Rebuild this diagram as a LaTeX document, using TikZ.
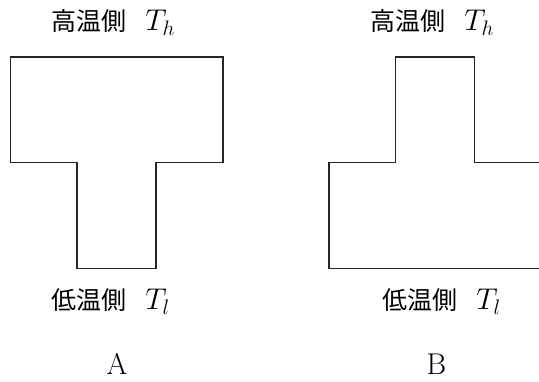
\RequirePackage{fix-cm}
\documentclass[tikz,border=0pt]{standalone}
\usepackage{amsmath}
\usepackage{fontspec}
\newfontfamily\cjk{Noto Sans CJK JP}
\usepackage{xcolor}
\usetikzlibrary{positioning}

\newcommand{\latsz}{\fontsize{30}{36}\selectfont}

\begin{document}
\begin{tikzpicture}[x=1pt,y=-1pt,line width=1.1pt,
    every node/.style={font=\cjk\fontsize{25}{30}\selectfont,inner sep=0pt},
    wall/.style={draw=black!85,line join=miter}]
      \useasboundingbox (0,0) rectangle (539,382);

      % A: wide side up
      \draw[wall] (10.5,57) -- (223,57) -- (223,162.7) -- (156,162.7) -- (156,268.3)
            -- (77,268.3) -- (77,162.7) -- (10.5,162.7) -- cycle;
      % B: wide side down
      \draw[wall] (540,162.7) -- (474.7,162.7) -- (474.7,57) -- (395.3,57) -- (395.3,162.7)
            -- (329,162.7) -- (329,268.3) -- (540,268.3);

      \node[anchor=base west] (hotA) at (51,31) {高温側\hspace{0.75em}{\latsz$T_h$}};
      \node[anchor=base west] (coldA) at (51,310) {低温側\hspace{0.75em}{\latsz$T_l$}};
      \node[anchor=base] (labA) at (117,375) {\rmfamily\latsz A};

      \node[anchor=base west] (hotB) at (370,31) {高温側\hspace{0.75em}{\latsz$T_h$}};
      \node[anchor=base west] (coldB) at (382,310) {低温側\hspace{0.75em}{\latsz$T_l$}};
      \node[anchor=base] (labB) at (436.5,375) {\rmfamily\latsz B};
    \end{tikzpicture}
\end{document}
